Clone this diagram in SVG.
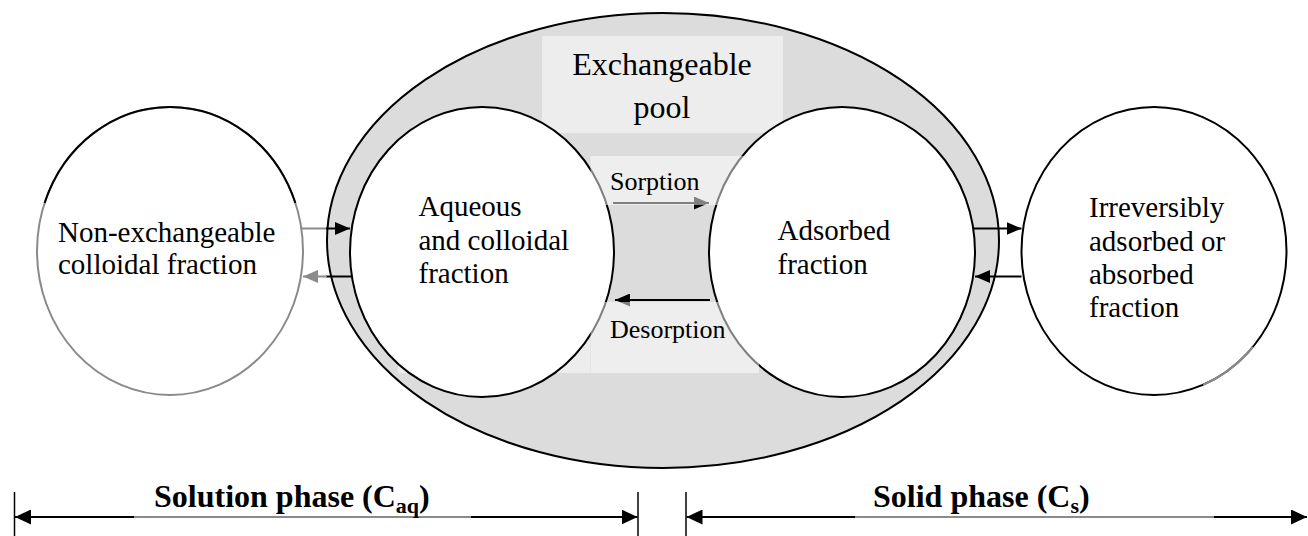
<svg xmlns="http://www.w3.org/2000/svg" width="1308" height="536" viewBox="0 0 1308 536">
  <style>
    .lbl { font-family: "Liberation Serif", "Times New Roman", serif; font-size: 29px; fill: #000; }
    .pool-lbl { font-family: "Liberation Serif", "Times New Roman", serif; font-size: 32px; fill: #000; }
    .flow-lbl { font-family: "Liberation Serif", "Times New Roman", serif; font-size: 26px; fill: #000; }
    .phase-lbl { font-family: "Liberation Serif", "Times New Roman", serif; font-size: 32px; font-weight: bold; fill: #000; }
    .ring { fill: #fff; stroke: #000; stroke-width: 2; }
    .edge { stroke: #000; stroke-width: 2; fill: none; }
    .edge-grey { stroke: #8a8a8a; stroke-width: 2; fill: none; }
    .veil { fill: #fff; fill-opacity: 0.5; }
    .dim { stroke: #000; stroke-width: 2; fill: none; }
    .dim-grey { stroke: #8a8a8a; stroke-width: 2; fill: none; }
    .tick { stroke: #000; stroke-width: 1.5; }
  </style>
  <defs>
    <marker id="head" markerUnits="userSpaceOnUse" markerWidth="15" markerHeight="13" refX="15" refY="6.5" orient="auto">
      <path d="M0,0 L15,6.5 L0,13 Z" fill="#000"/>
    </marker>
    <marker id="head-grey" markerUnits="userSpaceOnUse" markerWidth="15" markerHeight="13" refX="15" refY="6.5" orient="auto">
      <path d="M0,0 L15,6.5 L0,13 Z" fill="#8a8a8a"/>
    </marker>
    <marker id="dim-head" markerUnits="userSpaceOnUse" markerWidth="16" markerHeight="15" refX="16" refY="7.5" orient="auto-start-reverse">
      <path d="M0,0 L16,7.5 L0,15 Z" fill="#000"/>
    </marker>
  </defs>

  <!-- exchangeable pool: large shaded ellipse holding the two exchangeable fractions -->
  <g id="exchangeable-pool">
    <ellipse cx="663" cy="240.5" rx="336" ry="227.5" fill="#dcdcdc" stroke="#000" stroke-width="2"/>
    <rect x="542" y="36" width="241" height="97" fill="#ededed"/>
    <text class="pool-lbl" x="662" y="75" text-anchor="middle">Exchangeable</text>
    <text class="pool-lbl" x="662" y="118" text-anchor="middle">pool</text>
  </g>

  <!-- aqueous and colloidal fraction -->
  <g id="aqueous-fraction">
    <rect x="398" y="340" width="192" height="33" fill="#ededed"/>
    <ellipse class="ring" cx="482" cy="252" rx="132" ry="145"/>
    <text class="lbl" x="418.5" y="216">Aqueous</text>
    <text class="lbl" x="418.5" y="250">and colloidal</text>
    <text class="lbl" x="418.5" y="283">fraction</text>
  </g>

  <!-- adsorbed fraction -->
  <g id="adsorbed-fraction">
    <ellipse class="ring" cx="842" cy="252" rx="133" ry="145"/>
    <text class="lbl" x="777.5" y="240">Adsorbed</text>
    <text class="lbl" x="777.5" y="274">fraction</text>
  </g>

  <!-- non-exchangeable colloidal fraction -->
  <g id="non-exchangeable-fraction">
    <ellipse cx="170" cy="251" rx="133" ry="144" fill="#fff" stroke="#8a8a8a" stroke-width="2"/>
    <path class="edge" d="M44.6,203 A133,144 0 0 1 295.4,203"/>
    <text class="lbl" x="58" y="242">Non-exchangeable</text>
    <text class="lbl" x="58" y="274">colloidal fraction</text>
  </g>

  <!-- irreversibly adsorbed or absorbed fraction -->
  <g id="irreversible-fraction">
    <ellipse class="ring" cx="1154" cy="251" rx="132.5" ry="144"/>
    <path class="edge-grey" stroke-width="2.5" d="M1252.8,347 A132.5,144 0 0 1 1203,384.8"/>
    <text class="lbl" x="1089" y="217">Irreversibly</text>
    <text class="lbl" x="1089" y="251">adsorbed or</text>
    <text class="lbl" x="1089" y="284">absorbed</text>
    <text class="lbl" x="1089" y="317">fraction</text>
  </g>

  <!-- transfers between fractions -->
  <g id="connectors">
    <!-- non-exchangeable <-> aqueous -->
    <line class="edge-grey" x1="302" y1="228.5" x2="327" y2="228.5"/>
    <line class="edge" x1="326" y1="228.5" x2="350" y2="228.5" marker-end="url(#head)"/>
    <line class="edge" x1="352" y1="276.5" x2="326" y2="276.5"/>
    <line class="edge-grey" x1="327" y1="276.5" x2="303" y2="276.5" marker-end="url(#head-grey)"/>

    <!-- sorption / desorption -->
    <line class="edge" x1="613" y1="203" x2="709" y2="203" marker-end="url(#head)"/>
    <line class="edge" x1="710" y1="300" x2="615" y2="300" marker-end="url(#head)"/>
    <rect class="veil" x="590.5" y="156" width="168.5" height="49"/>
    <rect class="veil" x="590.5" y="302" width="168.5" height="71"/>
    <text class="flow-lbl" x="610" y="190">Sorption</text>
    <text class="flow-lbl" x="610" y="338">Desorption</text>

    <!-- adsorbed <-> irreversible -->
    <line class="edge" x1="973" y1="228.5" x2="1021.5" y2="228.5" marker-end="url(#head)"/>
    <line class="edge" x1="1021.5" y1="276.5" x2="975" y2="276.5" marker-end="url(#head)"/>
  </g>

  <!-- phase extents -->
  <g id="solution-phase">
    <line class="tick" x1="14.5" y1="492" x2="14.5" y2="536"/>
    <line class="tick" x1="638" y1="492" x2="638" y2="536"/>
    <line class="dim" x1="15" y1="517" x2="134" y2="517" marker-start="url(#dim-head)"/>
    <line class="dim-grey" x1="134" y1="517" x2="471" y2="517"/>
    <line class="dim" x1="471" y1="517" x2="637.5" y2="517" marker-end="url(#dim-head)"/>
    <text class="phase-lbl" x="154" y="507">Solution phase (C<tspan font-size="22" dy="6">aq</tspan><tspan dy="-6">)</tspan></text>
  </g>
  <g id="solid-phase">
    <line class="tick" x1="686" y1="492" x2="686" y2="536"/>
    <line class="dim" x1="686.5" y1="517" x2="855" y2="517" marker-start="url(#dim-head)"/>
    <line class="dim-grey" x1="855" y1="517" x2="1214" y2="517"/>
    <line class="dim" x1="1214" y1="517" x2="1307" y2="517" marker-end="url(#dim-head)"/>
    <text class="phase-lbl" x="873" y="507">Solid phase (C<tspan font-size="22" dy="6">s</tspan><tspan dy="-6">)</tspan></text>
  </g>
</svg>
